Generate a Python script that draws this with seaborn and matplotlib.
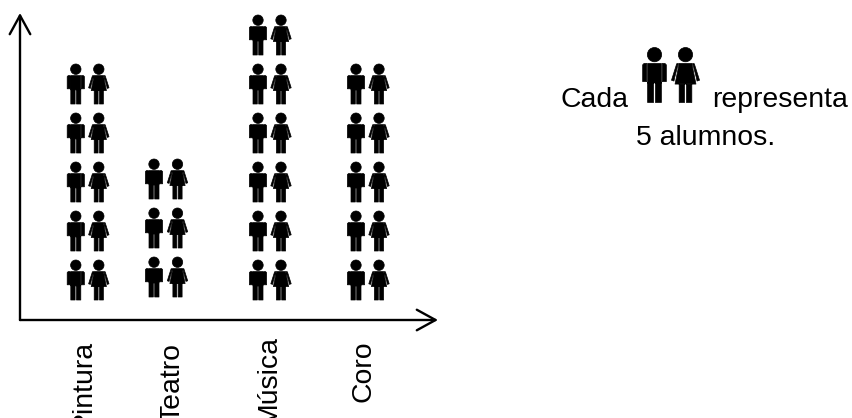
import matplotlib
matplotlib.use("Agg")
import matplotlib.pyplot as plt
from matplotlib.path import Path
from matplotlib.transforms import ScaledTranslation
import pandas as pd
import seaborn as sns

# ---- data ----
categories = ["Pintura", "Teatro", "Música", "Coro"]
alumnos = [25, 15, 30, 25]
alumnos_por_icono = 5

# ---- layout (pixels of the 853x418 figure) ----
W, H = 853, 418
AX_L, AX_R, AX_T, AX_B = 20, 438, 13, 320
icon_x = {"Pintura": (75.8, 98.8), "Teatro": (154, 177.5), "Música": (258, 281), "Coro": (356, 379)}
icon_shift = {"Pintura": 0.0, "Teatro": 3.0, "Música": 0.0, "Coro": 0.0}
label_x = [83.5, 172.5, 269, 363.5]
label_top = [340, 343, 335, 340]
PX_PER_ICON = 49.0
FIRST_ROW_PX = 40.0
FONT_PT = 20.4

sns.set_theme(style="white")
plt.rcParams["font.family"] = ["Liberation Sans", "DejaVu Sans"]


def rect(x0, x1, y0, y1):
    return Path([(x0, y0), (x1, y0), (x1, y1), (x0, y1), (x0, y0)], closed=True)


def poly(pts):
    return Path(list(pts) + [pts[0]], closed=True)


def head():
    return Path.circle((0, 14.8), 5.2)


def man_path():
    return Path.make_compound_path(
        head(),
        rect(-5.0, 5.0, -5.8, 8.4),
        poly([(-8.6, 7.4), (-7.6, 8.4), (-5.7, 8.4), (-5.7, -4.8), (-8.6, -4.8)]),
        poly([(5.7, 8.4), (7.6, 8.4), (8.6, 7.4), (8.6, -4.8), (5.7, -4.8)]),
        rect(-5.0, -0.7, -20, -5.6),
        rect(0.7, 5.0, -20, -5.6),
    )


def woman_path():
    return Path.make_compound_path(
        head(),
        poly([(-4.6, 8.4), (4.6, 8.4), (7.6, -6.6), (-7.6, -6.6)]),
        poly([(-6.4, 8.2), (-5.2, 8.4), (-7.8, -1.6), (-8.4, -4.4), (-10.2, -3.8)]),
        poly([(5.2, 8.4), (6.4, 8.2), (10.2, -3.8), (8.4, -4.4), (7.8, -1.6)]),
        rect(-4.6, -0.7, -20, -6.4),
        rect(0.7, 4.6, -20, -6.4),
    )


markers = {"hombre": man_path(), "mujer": woman_path()}


def marker_area(height_px, dpi):
    # custom path markers are normalised so that their largest |coordinate| is 0.5 * size
    return (height_px * 72 / dpi) ** 2


DPI = 100
fig = plt.figure(figsize=(W / DPI, H / DPI), dpi=DPI, facecolor="white")
ax = fig.add_axes([AX_L / W, 1 - AX_B / H, (AX_R - AX_L) / W, (AX_B - AX_T) / H])

student_per_px = alumnos_por_icono / PX_PER_ICON
rows = []
for cat, val in zip(categories, alumnos):
    n = val // alumnos_por_icono
    for k in range(n):
        y = (FIRST_ROW_PX + icon_shift[cat] + k * PX_PER_ICON) * student_per_px
        rows.append({"x": icon_x[cat][0], "y": y, "figura": "hombre"})
        rows.append({"x": icon_x[cat][1], "y": y, "figura": "mujer"})
df = pd.DataFrame(rows)

sns.scatterplot(data=df, x="x", y="y", style="figura", markers=markers, color="black",
                s=marker_area(40, DPI), linewidth=0.5, edgecolor="black", legend=False, ax=ax, clip_on=False)

ax.set_xlim(AX_L, AX_R)
ax.set_ylim(0, (AX_B - AX_T) * student_per_px)
ax.set_xlabel("")
ax.set_ylabel("")
ax.set_yticks([])
ax.set_xticks(label_x)
ax.set_xticklabels(categories, rotation=90, fontsize=FONT_PT, color="black", va="top", ha="center")
ax.tick_params(axis="x", length=0, pad=0)
for lab, top in zip(ax.get_xticklabels(), label_top):
    lab.set_transform(lab.get_transform() + ScaledTranslation(0, -(top - AX_B) / DPI, fig.dpi_scale_trans))

sns.despine(ax=ax, left=True, bottom=True, top=True, right=True)
ax.patch.set_alpha(0)
arrow = dict(arrowstyle="->,head_length=13.5,head_width=7.4", mutation_scale=1, color="black",
             lw=1.7, shrinkA=0, shrinkB=0)
ax.annotate("", xy=(1, 0), xytext=(0, 0), xycoords="axes fraction", arrowprops=arrow)
ax.annotate("", xy=(0, 1), xytext=(0, 0), xycoords="axes fraction", arrowprops=arrow)

# ---- key ----
key = fig.add_axes([0, 0, 1, 1])
key.axis("off")
key.patch.set_alpha(0)
key_df = pd.DataFrame({"x": [654.5, 685.5], "y": [75, 75], "figura": ["hombre", "mujer"]})
sns.scatterplot(data=key_df, x="x", y="y", style="figura", markers=markers, color="black",
                s=marker_area(55, DPI), linewidth=0.5, edgecolor="black", legend=False, ax=key)
key.set_xlim(0, W)
key.set_ylim(H, 0)
key.set_xlabel("")
key.set_ylabel("")
key.text(561, 107, "Cada", fontsize=FONT_PT, color="black", va="baseline", ha="left")
key.text(712, 107, "representa", fontsize=FONT_PT, color="black", va="baseline", ha="left")
key.text(706, 145, "5 alumnos.", fontsize=FONT_PT, color="black", va="baseline", ha="center")

fig.savefig("out.png", dpi=DPI, facecolor="white")
